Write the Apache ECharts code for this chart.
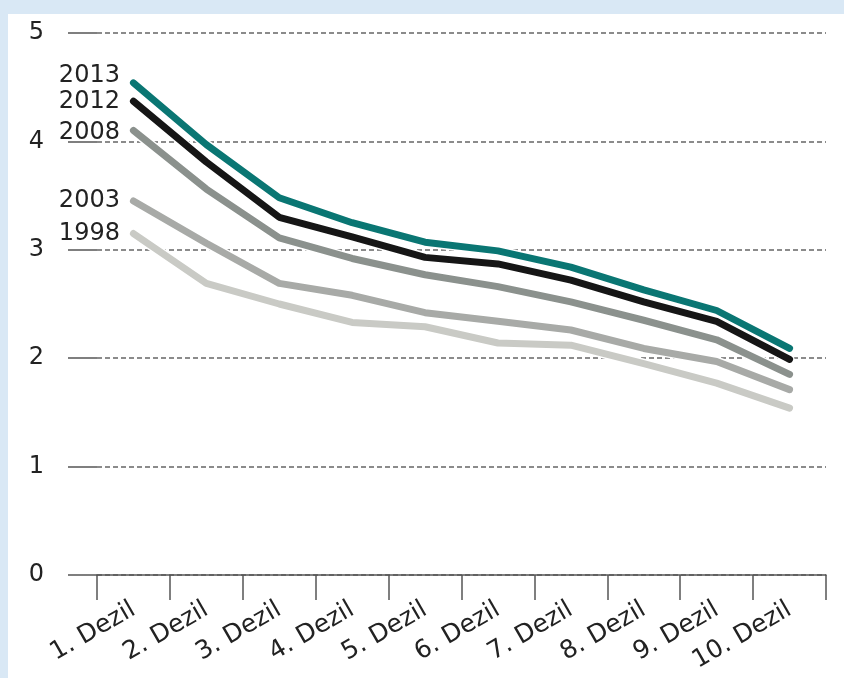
<!DOCTYPE html>
<html>
<head>
<meta charset="utf-8">
<script src="https://cdn.jsdelivr.net/npm/echarts@6/dist/echarts.min.js"></script>
<style>
  html, body { margin: 0; padding: 0; background: #d9e8f5; }
  #chart { position: absolute; left: 8px; top: 14px; width: 836px; height: 664px; background: #fff; }
</style>
</head>
<body>
<div id="chart"></div>
<script>
const categories = ["1. Dezil", "2. Dezil", "3. Dezil", "4. Dezil", "5. Dezil",
  "6. Dezil", "7. Dezil", "8. Dezil", "9. Dezil", "10. Dezil"];
const yTicks = [0, 1, 2, 3, 4, 5];

const y1998 = [3.15, 2.69, 2.50, 2.33, 2.29, 2.14, 2.12, 1.95, 1.77, 1.54];
const y2003 = [3.45, 3.06, 2.69, 2.58, 2.42, 2.34, 2.26, 2.09, 1.97, 1.71];
const y2008 = [4.10, 3.56, 3.11, 2.92, 2.77, 2.66, 2.52, 2.35, 2.17, 1.85];
const y2012 = [4.37, 3.81, 3.30, 3.12, 2.93, 2.87, 2.72, 2.52, 2.34, 1.99];
const y2013 = [4.54, 3.97, 3.48, 3.25, 3.07, 2.99, 2.84, 2.63, 2.44, 2.09];

const lines = [
  { name: "1998", data: y1998, color: "#c9cac5", offset: 0 },
  { name: "2003", data: y2003, color: "#a8aaa7", offset: 0 },
  { name: "2008", data: y2008, color: "#8b918d", offset: 2 },
  { name: "2012", data: y2012, color: "#161616", offset: 0 },
  { name: "2013", data: y2013, color: "#0a7673", offset: -7 }
];

const font = "'DejaVu Sans', 'Open Sans', sans-serif";
const series = [];
lines.forEach((l) => {
  // white halo under each line
  series.push({
    name: l.name + "-halo",
    type: "line",
    data: l.data,
    symbol: "none",
    silent: true,
    lineStyle: { color: "#fff", width: 10, cap: "round", join: "round" }
  });
  series.push({
    name: l.name,
    type: "line",
    data: l.data,
    symbol: "circle",
    symbolSize: 1,
    itemStyle: { color: l.color, opacity: 0 },
    lineStyle: { color: l.color, width: 7, cap: "round", join: "round" },
    label: {
      show: true,
      position: "left",
      distance: 13,
      offset: [0, l.offset],
      fontFamily: font,
      fontSize: 24,
      color: "#222",
      opacity: 1,
      formatter: (p) => (p.dataIndex === 0 ? l.name : "")
    }
  });
});

const chart = echarts.init(document.getElementById("chart"));
chart.setOption({
  animation: false,
  grid: { left: 89, right: 18, top: 19, bottom: 103 },
  xAxis: {
    type: "category",
    data: categories,
    boundaryGap: true,
    axisLine: { lineStyle: { color: "#555", width: 1.5 } },
    axisTick: { show: true, interval: 0, length: 25, lineStyle: { color: "#555", width: 1.5 } },
    axisLabel: {
      interval: 0,
      rotate: 30,
      margin: 33,
      fontFamily: font,
      fontSize: 25,
      color: "#222"
    },
    splitLine: { show: false }
  },
  yAxis: {
    type: "value",
    min: yTicks[0],
    max: yTicks[yTicks.length - 1],
    interval: 1,
    axisLine: { show: false },
    axisTick: { show: true, length: 29, lineStyle: { color: "#555", width: 1.5 } },
    axisLabel: {
      margin: 53,
      fontFamily: font,
      fontSize: 24,
      color: "#222"
    },
    splitLine: { show: true, lineStyle: { color: "#666", width: 1.5, type: [5, 3] } }
  },
  series: series
});
</script>
</body>
</html>
